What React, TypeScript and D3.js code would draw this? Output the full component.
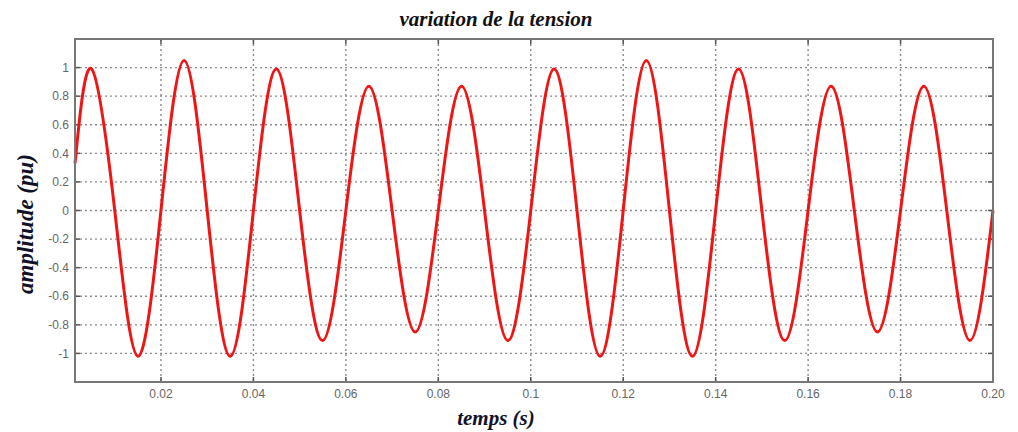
import React from 'react';
import * as d3 from 'd3';

// time samples (s): start, then every quarter period
const times = [
  0.0014, 0.005, 0.01, 0.015, 0.02, 0.025, 0.03, 0.035, 0.04, 0.045, 0.05,
  0.055, 0.06, 0.065, 0.07, 0.075, 0.08, 0.085, 0.09, 0.095, 0.1,
  0.105, 0.11, 0.115, 0.12, 0.125, 0.13, 0.135, 0.14, 0.145, 0.15,
  0.155, 0.16, 0.165, 0.17, 0.175, 0.18, 0.185, 0.19, 0.195, 0.2,
];
const amplitude = [
  0.33, 0.99, 0, -1.02, 0, 1.05, 0, -1.02, 0, 0.99, 0,
  -0.91, 0, 0.87, 0, -0.85, 0, 0.87, 0, -0.91, 0,
  0.99, 0, -1.02, 0, 1.05, 0, -1.02, 0, 0.99, 0,
  -0.91, 0, 0.87, 0, -0.85, 0, 0.87, 0, -0.91, 0,
];

const xTicks = [0.02, 0.04, 0.06, 0.08, 0.1, 0.12, 0.14, 0.16, 0.18, 0.2];
const xTickLabels = ['0.02', '0.04', '0.06', '0.08', '0.1', '0.12', '0.14', '0.16', '0.18', '0.20'];
const yTicks = [-1, -0.8, -0.6, -0.4, -0.2, 0, 0.2, 0.4, 0.6, 0.8, 1];
const yTickLabels = ['-1', '-0.8', '-0.6', '-0.4', '-0.2', '0', '0.2', '0.4', '0.6', '0.8', '1'];

export default function App() {
  const width = 1018;
  const height = 432;
  const left = 75;
  const right = 993;
  const top = 39;
  const bottom = 382;

  const x = d3.scaleLinear().domain([0.0014, 0.2]).range([left, right]);
  const y = d3.scaleLinear().domain([-1.2, 1.2]).range([bottom, top]);

  const line = d3.line<number>()
    .x((_, i) => x(times[i]))
    .y(d => y(d))
    .curve(d3.curveNatural);

  const tickLen = 5;
  const serif = '"Liberation Serif", "DejaVu Serif", serif';
  const sans = '"Liberation Sans", Arial, sans-serif';

  return (
    <svg width={width} height={height} style={{ position: 'absolute', left: 0, top: 0, background: '#fff' }}>
      {/* grid */}
      {xTicks.map(t => (
        <line key={'gx' + t} x1={x(t)} x2={x(t)} y1={top} y2={bottom}
          stroke="#8a8a8a" strokeWidth={1.4} strokeDasharray="2,3" />
      ))}
      {yTicks.map(t => (
        <line key={'gy' + t} x1={left} x2={right} y1={y(t)} y2={y(t)}
          stroke="#8a8a8a" strokeWidth={1.4} strokeDasharray="2,3" />
      ))}

      {/* tick marks on all four sides */}
      {xTicks.map(t => (
        <g key={'tx' + t} stroke="#555" strokeWidth={1.5}>
          <line x1={x(t)} x2={x(t)} y1={bottom} y2={bottom - tickLen} />
          <line x1={x(t)} x2={x(t)} y1={top} y2={top + tickLen} />
        </g>
      ))}
      {yTicks.map(t => (
        <g key={'ty' + t} stroke="#555" strokeWidth={1.5}>
          <line x1={left} x2={left + tickLen} y1={y(t)} y2={y(t)} />
          <line x1={right} x2={right - tickLen} y1={y(t)} y2={y(t)} />
        </g>
      ))}

      {/* curve */}
      <path d={line(amplitude) || ''} fill="none" stroke="#f01515" strokeWidth={3} strokeLinejoin="round" />

      {/* axes box */}
      <rect x={left} y={top} width={right - left} height={bottom - top} fill="none" stroke="#777" strokeWidth={2} />

      {/* tick labels */}
      {xTicks.map((t, i) => (
        <text key={'lx' + t} x={x(t)} y={bottom + 16} textAnchor="middle"
          fontFamily={sans} fontSize={12} fill="#666">{xTickLabels[i]}</text>
      ))}
      {yTicks.map((t, i) => (
        <text key={'ly' + t} x={left - 6} y={y(t)} dy="0.35em" textAnchor="end"
          fontFamily={sans} fontSize={12} fill="#666">{yTickLabels[i]}</text>
      ))}

      {/* titles */}
      <text x={496} y={26} textAnchor="middle" fontFamily={serif} fontStyle="italic" fontWeight="bold"
        fontSize={21} fill="#111">variation de la tension</text>
      <text x={496} y={425} textAnchor="middle" fontFamily={serif} fontStyle="italic" fontWeight="bold"
        fontSize={21} fill="#111128">temps (s)</text>
      <text transform={`translate(33,224) rotate(-90)`} textAnchor="middle" fontFamily={serif}
        fontStyle="italic" fontWeight="bold" fontSize={23} fill="#111128">amplitude (pu)</text>
    </svg>
  );
}
